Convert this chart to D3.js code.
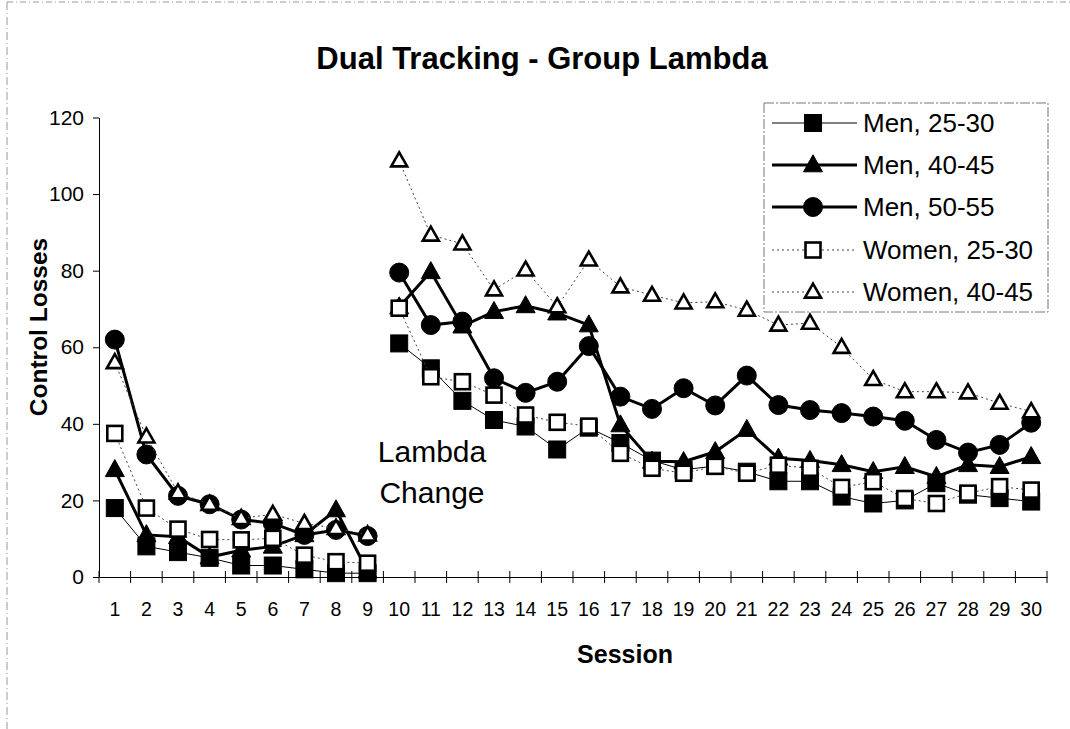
<!DOCTYPE html>
<html>
<head>
<meta charset="utf-8">
<script src="https://cdn.jsdelivr.net/npm/d3@7"></script>
<style>
  html, body { margin: 0; padding: 0; background: #fff; }
  svg { display: block; font-family: "Liberation Sans", Arial, sans-serif; }
</style>
</head>
<body>
<svg id="chart" width="1070" height="729"></svg>
<script>
const sessions = d3.range(1, 31);
const yTicks = [0, 20, 40, 60, 80, 100, 120];
const seriesNames = ["Men, 25-30", "Men, 40-45", "Men, 50-55", "Women, 25-30", "Women, 40-45"];
const men2530 = [18, 8, 6.5, 5, 3, 3, 2, 1, 1, 61, 54.5, 46, 41, 39.3, 33.3, 39, 35, 30.4, 28, 29, 27.5, 25, 25, 21, 19.2, 20, 24.5, 21.5, 20.6, 19.7];
const men4045 = [28, 11, 10.5, 5.2, 7, 8, 11, 17.5, 1.5, 70.5, 79.7, 65.5, 69.3, 70.8, 68.9, 65.8, 39.7, 30.2, 30.1, 32.7, 38.5, 31, 30.4, 29.3, 27.5, 28.8, 26.2, 29.3, 28.8, 31.4];
const men5055 = [62, 32, 21.2, 19, 15, 14, 11, 12.3, 10.7, 79.5, 65.8, 66.7, 51.9, 48.1, 51, 60.3, 47.1, 43.9, 49.3, 44.8, 52.6, 44.9, 43.6, 42.8, 41.9, 40.8, 35.8, 32.5, 34.5, 40.3];
const women2530 = [37.5, 18, 12.5, 9.8, 9.7, 10.1, 5.7, 4, 3.6, 70.2, 52.3, 51, 47.5, 42.3, 40.4, 39.4, 32.3, 28.4, 27.1, 28.9, 27.1, 29.2, 28.4, 23.4, 24.9, 20.5, 19.2, 21.9, 23.6, 22.7];
const women4045 = [56, 36.6, 22, 19, 15.3, 16.4, 14, 12.7, 11, 108.7, 89.3, 87, 75, 80.2, 70.6, 82.8, 75.8, 73.6, 71.6, 71.9, 69.7, 65.8, 66.3, 60, 51.6, 48.4, 48.4, 48.1, 45.4, 43.2];
const lambdaChangeAfter = 9; // line break between sessions 9 and 10

const styles = [
  { values: men2530, marker: "square", filled: true, width: 1, dash: null },
  { values: men4045, marker: "triangle", filled: true, width: 3, dash: null },
  { values: men5055, marker: "circle", filled: true, width: 3, dash: null },
  { values: women2530, marker: "square", filled: false, width: 1, dash: "2,3" },
  { values: women4045, marker: "triangle", filled: false, width: 1, dash: "2,3" }
];

const svg = d3.select("#chart");

// outer chart frame (faint)
svg.append("line").attr("x1", 7).attr("x2", 1070).attr("y1", 2).attr("y2", 2)
  .attr("stroke", "#999").attr("stroke-dasharray", "6,3,1,3").attr("stroke-width", 1);
svg.append("line").attr("x1", 7).attr("x2", 7).attr("y1", 2).attr("y2", 729)
  .attr("stroke", "#999").attr("stroke-dasharray", "8,3,1,3").attr("stroke-width", 1);

const x = d3.scaleBand().domain(sessions).range([99, 1047]);
const y = d3.scaleLinear().domain([0, 120]).range([577, 117.5]);
const cx = s => x(s) + x.bandwidth() / 2;

// title
svg.append("text").attr("x", 542).attr("y", 69).attr("text-anchor", "middle")
  .attr("font-size", 31).attr("font-weight", "bold").text("Dual Tracking - Group Lambda");

// y axis
const yAxis = svg.append("g").attr("transform", "translate(99,0)")
  .call(d3.axisLeft(y).tickValues(yTicks).tickSize(6).tickSizeOuter(0).tickPadding(9));
yAxis.selectAll("text").attr("font-size", 21).attr("font-family", "Liberation Sans, Arial, sans-serif").attr("fill", "#000");
yAxis.selectAll("line, path").attr("stroke", "#000").attr("stroke-width", 1);

// x axis
const xAxis = svg.append("g").attr("transform", "translate(0,577)")
  .call(d3.axisBottom(x).tickSize(0).tickSizeOuter(0).tickPadding(25));
xAxis.selectAll("text").attr("font-size", 19.5).attr("font-family", "Liberation Sans, Arial, sans-serif").attr("fill", "#000");
xAxis.select("path").attr("stroke", "#000").attr("stroke-width", 1);
const boundaries = sessions.map(s => x(s)).concat([x(30) + x.bandwidth()]);
svg.append("g").selectAll("line").data(boundaries).join("line")
  .attr("x1", d => d).attr("x2", d => d).attr("y1", 571).attr("y2", 583)
  .attr("stroke", "#000").attr("stroke-width", 1);

// axis titles
svg.append("text").attr("transform", "translate(47,327) rotate(-90)")
  .attr("text-anchor", "middle").attr("font-size", 24.5).attr("font-weight", "bold").text("Control Losses");
svg.append("text").attr("x", 625).attr("y", 663).attr("text-anchor", "middle")
  .attr("font-size", 25).attr("font-weight", "bold").text("Session");

// annotation
svg.append("text").attr("x", 432).attr("y", 462).attr("text-anchor", "middle")
  .attr("font-size", 30).text("Lambda");
svg.append("text").attr("x", 432).attr("y", 503).attr("text-anchor", "middle")
  .attr("font-size", 30).text("Change");

function drawMarker(g, type, filled, px, py) {
  const fill = filled ? "#000" : "#fff";
  const sw = filled ? 1 : 2.6;
  if (type === "square") {
    const s = filled ? 17 : 15;
    g.append("rect").attr("x", px - s / 2).attr("y", py - s / 2).attr("width", s).attr("height", s)
      .attr("fill", fill).attr("stroke", "#000").attr("stroke-width", sw);
  } else if (type === "circle") {
    g.append("circle").attr("cx", px).attr("cy", py).attr("r", 9.5)
      .attr("fill", fill).attr("stroke", "#000").attr("stroke-width", sw);
  } else {
    const w = filled ? 19 : 16, h = filled ? 17 : 14;
    g.append("path").attr("d", `M${px},${py - h * 0.6}L${px + w / 2},${py + h * 0.4}L${px - w / 2},${py + h * 0.4}Z`)
      .attr("fill", fill).attr("stroke", "#000").attr("stroke-width", sw).attr("stroke-linejoin", "miter");
  }
}

const line = d3.line().x(d => cx(d.s)).y(d => y(d.v));

styles.forEach(st => {
  const g = svg.append("g");
  const pts = sessions.map((s, i) => ({ s, v: st.values[i] }));
  const seg1 = pts.filter(d => d.s <= lambdaChangeAfter);
  const seg2 = pts.filter(d => d.s > lambdaChangeAfter);
  [seg1, seg2].forEach(seg => {
    g.append("path").attr("d", line(seg)).attr("fill", "none")
      .attr("stroke", st.dash ? "#444" : "#000").attr("stroke-width", st.width)
      .attr("stroke-dasharray", st.dash);
  });
  pts.forEach(d => drawMarker(g, st.marker, st.filled, cx(d.s), y(d.v)));
});

// legend
const lg = svg.append("g");
lg.append("rect").attr("x", 764).attr("y", 103).attr("width", 284).attr("height", 209)
  .attr("fill", "#fff").attr("stroke", "#777").attr("stroke-width", 1).attr("stroke-dasharray", "10,2,2,2");
const legendY = [123, 165, 207, 250, 292];
styles.forEach((st, i) => {
  const yy = legendY[i];
  lg.append("line").attr("x1", 772).attr("x2", 857).attr("y1", yy).attr("y2", yy)
    .attr("stroke", st.dash ? "#444" : "#000").attr("stroke-width", st.width)
    .attr("stroke-dasharray", st.dash);
  drawMarker(lg, st.marker, st.filled, 813, yy);
  lg.append("text").attr("x", 863).attr("y", yy + 9).attr("font-size", 26).text(seriesNames[i]);
});
</script>
</body>
</html>
